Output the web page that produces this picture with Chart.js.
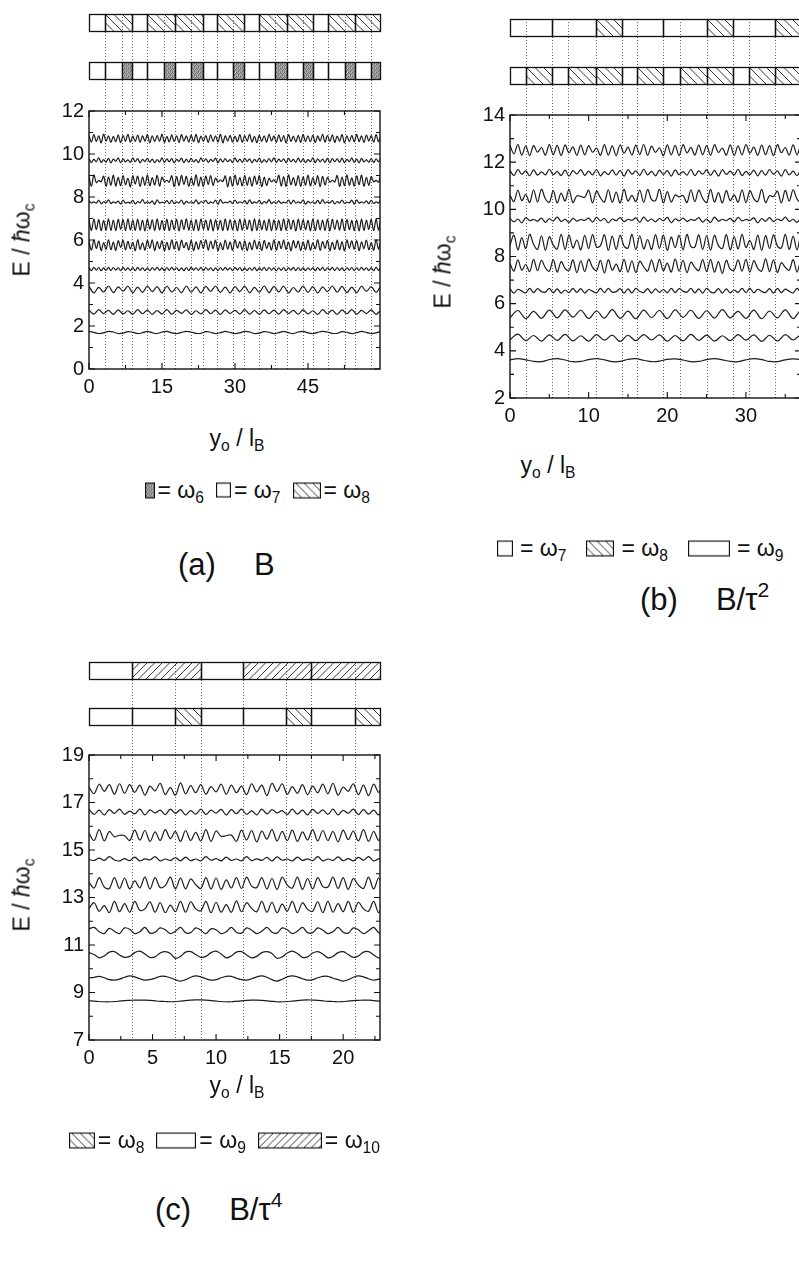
<!DOCTYPE html>
<html><head><meta charset="utf-8">
<script src="https://cdn.jsdelivr.net/npm/chart.js@4.4.1/dist/chart.umd.min.js"></script>
<style>
html,body{margin:0;padding:0;overflow:hidden;background:#fff}
body{width:799px;height:1262px;position:relative;font-family:"Liberation Sans",Arial,sans-serif;color:#111}
.cv{position:absolute}
.t{position:absolute;white-space:nowrap;font-size:23px;transform:translate(-50%,-50%)}
.yl{transform:translate(-50%,-50%) rotate(-90deg)}
sub{font-size:68%;vertical-align:-0.35em;line-height:0}
sup{font-size:68%;vertical-align:0.6em;line-height:0}
.lg{position:absolute;display:flex;align-items:center;white-space:nowrap;font-size:23px;transform:translateY(-50%)}
.lg canvas{display:block}
.lg span{margin:0 12px 0 3px}
.lg span:last-child{margin-right:0}
.lg.wide span{margin:0 20px 0 7px}
.cap{position:absolute;white-space:nowrap;font-size:31px;transform:translateY(-50%)}
.cap span+span{margin-left:38px}
</style></head><body>
<div class="cv" style="left:0;top:0;width:400px;height:410px"><canvas id="ca"></canvas></div>
<div class="cv" style="left:420px;top:0;width:400px;height:440px"><canvas id="cb"></canvas></div>
<div class="cv" style="left:0;top:640px;width:400px;height:440px"><canvas id="cc"></canvas></div>

<div class="t yl" style="left:22px;top:240px">E / <i>ħ</i>ω<sub>c</sub></div>
<div class="t" style="left:237px;top:438px">y<sub>o</sub> / l<sub>B</sub></div>
<div class="lg" style="right:429px;top:490px"><canvas class="sw" data-k="G" width="10" height="16"></canvas><span>= ω<sub>6</sub></span><canvas class="sw" data-k="W" width="15" height="15"></canvas><span>= ω<sub>7</sub></span><canvas class="sw" data-k="H8" width="28" height="16"></canvas><span>= ω<sub>8</sub></span></div>
<div class="cap" style="left:178px;top:565px"><span>(a)</span><span>B</span></div>

<div class="t yl" style="left:443px;top:272px">E / <i>ħ</i>ω<sub>c</sub></div>
<div class="t" style="left:548px;top:465px">y<sub>o</sub> / l<sub>B</sub></div>
<div class="lg wide" style="left:497px;top:548px"><canvas class="sw" data-k="W" width="16" height="16"></canvas><span>= ω<sub>7</sub></span><canvas class="sw" data-k="H8" width="28" height="16"></canvas><span>= ω<sub>8</sub></span><canvas class="sw" data-k="W" width="42" height="16"></canvas><span>= ω<sub>9</sub></span></div>
<div class="cap" style="left:640px;top:600px"><span>(b)</span><span>B/τ<sup>2</sup></span></div>

<div class="t yl" style="left:22px;top:895px">E / <i>ħ</i>ω<sub>c</sub></div>
<div class="t" style="left:237px;top:1085px">y<sub>o</sub> / l<sub>B</sub></div>
<div class="lg" style="right:419px;top:1140px"><canvas class="sw" data-k="H8" width="26" height="16"></canvas><span>= ω<sub>8</sub></span><canvas class="sw" data-k="W" width="40" height="16"></canvas><span>= ω<sub>9</sub></span><canvas class="sw" data-k="H10" width="64" height="16"></canvas><span>= ω<sub>10</sub></span></div>
<div class="cap" style="left:155px;top:1210px"><span>(c)</span><span>B/τ<sup>4</sup></span></div>

<script>
// ---------- sample positions (y_o / l_B) ----------
const XA1=[0,.5,1,1.5,2,2.5,3,3.5,4,4.5,
5,5.5,6,6.5,7,7.5,8,8.5,9,9.5,
10,10.5,11,11.5,12,12.5,13,13.5,14,14.5,
15,15.5,16,16.5,17,17.5,18,18.5,19,19.5,
20,20.5,21,21.5,22,22.5,23,23.5,24,24.5,
25,25.5,26,26.5,27,27.5,28,28.5,29,29.5,
30,30.5,31,31.5,32,32.5,33,33.5,34,34.5,
35,35.5,36,36.5,37,37.5,38,38.5,39,39.5,
40,40.5,41,41.5,42,42.5,43,43.5,44,44.5,
45,45.5,46,46.5,47,47.5,48,48.5,49,49.5,
50,50.5,51,51.5,52,52.5,53,53.5,54,54.5,
55,55.5,56,56.5,57,57.5,58,58.5,59,59.5,
60,60.5,61,61.5,62,62.5,63,63.5,64,64.5];
const XA2=[0,1,2,3,4,5,6,7,8,9,10,11,12,13,14,15,16,17,18,19,
20,21,22,23,24,25,26,27,28,29,30,31,32,33,34,35,36,37,38,39,
40,41,42,43,44,45,46,47,48,49,50,51,52,53,54,55,56,57,58,59,
60,61,62,63,64,65,66,67,68,69];
const XB1=[0,.5,1,1.5,2,2.5,3,3.5,4,4.5,
5,5.5,6,6.5,7,7.5,8,8.5,9,9.5,
10,10.5,11,11.5,12,12.5,13,13.5,14,14.5,
15,15.5,16,16.5,17,17.5,18,18.5,19,19.5,
20,20.5,21,21.5,22,22.5,23,23.5,24,24.5,
25,25.5,26,26.5,27,27.5,28,28.5,29,29.5,
30,30.5,31,31.5,32,32.5,33,33.5,34,34.5,
35,35.5,36,36.5,37,37.5,38,38.5,39,39.5];
const XB2=[0,1,2,3,4,5,6,7,8,9,10,11,12,13,14,15,16,17,18,19,
20,21,22,23,24,25,26,27,28,29,30,31,32,33,34,35,36,37,38,39];
const XC1=[0,.4,.8,1.2,1.6,2,2.4,2.8,3.2,3.6,
4,4.4,4.8,5.2,5.6,6,6.4,6.8,7.2,7.6,
8,8.4,8.8,9.2,9.6,10,10.4,10.8,11.2,11.6,
12,12.4,12.8,13.2,13.6,14,14.4,14.8,15.2,15.6,
16,16.4,16.8,17.2,17.6,18,18.4,18.8,19.2,19.6,
20,20.4,20.8,21.2,21.6,22,22.4,22.8,23.2,23.6];

// ---------- panel (a): B ----------
const A_BASE=[10.7,9.7,8.75,7.75,6.7,5.75,4.65,3.7,2.65,1.7];
// deviations from level, in 0.01 E/hw_c
const A1=[16,-14,20,-12,14,-18,22,-10,15,-16,
12,-13,19,-17,16,-11,21,-15,13,-12,
18,-16,14,-10,20,-18,15,-13,17,-11,
22,-16,12,-14,19,-12,15,-17,20,-10,
14,-15,18,-13,21,-17,13,-11,16,-16,
19,-12,15,-14,22,-18,14,-10,17,-15,
13,-13,20,-16,16,-11,21,-14,12,-17,
18,-12,15,-15,22,-10,14,-16,19,-13,
16,-18,20,-11,13,-14,17,-16,21,-12,
15,-13,18,-17,14,-10,22,-15,16,-12,
19,-16,13,-11,20,-18,15,-13,17,-14,
21,-12,14,-16,18,-10,16,-15,20,-13,
15,-17,19,-12,13,-14,22,-16,17,-11];
const A2=[8,-10,5,-6,12,-9,4,-8,10,-11,
6,-4,11,-10,7,-7,3,-9,12,-6,
9,-11,5,-5,10,-8,6,-10,4,-7,
12,-9,7,-6,9,-11,5,-4,11,-10,
6,-8,10,-7,4,-10,12,-6,8,-9,
5,-5,11,-11,7,-8,9,-6,4,-10,
12,-7,6,-9,10,-5,8,-11,5,-6,
11,-10,4,-8,9,-7,12,-9,6,-5,
8,-11,10,-6,5,-9,11,-8,7,-10,
4,-6,12,-10,8,-7,6,-9,10,-11,
9,-5,7,-8,11,-10,5,-6,12,-9,
6,-11,10,-7,4,-8,9,-10,8,-6,
11,-9,5,-7,10,-11,7,-5,9,-8];
const A3=[20,-25,28,-8,2,-4,22,-26,18,-20,
27,-24,16,-22,25,-18,12,-27,24,-15,
22,-26,18,-20,28,-23,15,-19,26,-24,
17,-4,3,-6,24,-27,20,-22,26,-16,
21,-25,14,-20,28,-24,18,-26,22,-17,
25,-21,13,-5,4,-3,23,-28,20,-24,
27,-19,15,-23,26,-20,18,-25,22,-16,
24,-27,17,-21,12,-4,5,-8,26,-24,
20,-26,28,-18,15,-22,25,-25,19,-20,
27,-23,14,-17,24,-27,21,-19,16,-6,
3,-5,25,-26,18,-22,28,-20,14,-24,
23,-18,27,-25,16,-21,20,-4,2,-6,
24,-27,19,-20,26,-23,15,-18,25,-22];
const A4=[8,-3,2,-4,10,-6,3,-2,12,-5,
2,-3,6,-8,11,-4,1,-3,9,-7,
4,-2,13,-5,3,-4,7,-9,12,-3,
1,-2,8,-6,10,-5,2,-3,11,-8,
5,-3,3,-4,12,-7,4,-2,9,-6,
2,-4,10,-9,13,-3,1,-2,6,-5,
11,-4,3,-3,8,-7,12,-5,2,-2,
9,-8,4,-3,13,-6,3,-4,7,-5,
1,-2,11,-7,10,-4,2,-3,12,-9,
5,-3,3,-5,9,-6,13,-4,2,-2,
8,-7,4,-3,11,-5,1,-2,10,-8,
12,-4,3,-3,7,-6,9,-5,2,-3,
13,-8,4,-2,8,-5,11,-6,3,-4];
const A5=[24,-26,27,-22,25,-27,21,-24,28,-25,
23,-27,26,-21,25,-26,28,-23,22,-25,
27,-24,22,-28,26,-20,24,-26,28,-23,
21,-25,27,-27,23,-22,26,-28,24,-21,
28,-24,22,-26,25,-27,27,-20,23,-25,
26,-28,24,-22,21,-26,28,-25,25,-23,
22,-27,27,-24,26,-21,23,-28,28,-26,
25,-22,21,-25,27,-27,24,-23,22,-26,
28,-25,26,-21,23,-28,27,-24,25,-22,
21,-26,28,-27,24,-23,22,-25,27,-28,
26,-21,23,-24,28,-26,25,-22,21,-27,
24,-28,27,-25,22,-21,26,-27,28,-24,
23,-22,25,-28,27,-26,21,-23,24,-25];
const A6=[18,-22,25,-14,20,-24,12,-18,26,-20,
15,-24,22,-10,24,-21,19,-16,14,-25,
26,-18,12,-22,23,-13,25,-24,17,-15,
21,-25,14,-20,26,-16,18,-23,24,-11,
13,-21,25,-24,16,-18,22,-14,26,-22,
19,-15,24,-25,12,-20,25,-17,15,-23,
26,-12,17,-22,21,-24,14,-19,25,-16,
18,-25,23,-14,13,-21,26,-22,19,-15,
24,-18,15,-25,22,-12,20,-24,16,-20,
25,-22,12,-16,26,-23,18,-14,23,-25,
14,-19,24,-21,17,-25,25,-13,21,-18,
22,-24,16,-15,25,-20,13,-23,26,-17,
19,-13,23,-24,15,-22,26,-18,20,-21];
const A7=[6,-7,8,-5,7,-8,5,-6,8,-7,
7,-5,6,-8,8,-6,5,-7,7,-8,
8,-6,5,-7,6,-8,7,-5,8,-6,
5,-8,7,-6,8,-5,6,-7,5,-8,
7,-7,8,-5,6,-6,8,-8,7,-5,
6,-8,5,-7,7,-6,8,-5,6,-7,
8,-5,7,-8,5,-7,6,-6,8,-8,
5,-6,8,-7,7,-5,5,-8,6,-6,
7,-8,6,-5,8,-7,7,-6,5,-8,
6,-5,5,-8,7,-6,8,-7,6,-5,
8,-7,7,-6,5,-8,6,-5,7,-7,
5,-6,8,-5,6,-7,7,-8,8,-6,
7,-8,5,-7,8,-5,6,-6,5,-7];
const A8=[14,-16,10,-12,16,-15,12,-8,15,-16,
11,-14,16,-10,13,-16,15,-12,9,-15,
16,-13,12,-16,14,-9,16,-14,11,-16,
13,-10,15,-16,10,-13,16,-15,14,-11,
15,-16,9,-12,16,-14,13,-16,12,-10,
16,-13,14,-15,11,-16,15,-9,13,-14,
12,-16,16,-11,14,-15,10,-13,16,-12];
const A9=[9,-10,11,-7,8,-11,10,-9,6,-10,
11,-8,9,-11,7,-9,11,-10,8,-6,
10,-11,6,-9,11,-8,9,-11,10,-7,
8,-9,11,-10,7,-11,10,-8,9,-10,
11,-7,8,-10,10,-9,6,-11,11,-8,
9,-11,10,-8,11,-10,8,-7,10,-11,
7,-9,11,-11,9,-8,10,-10,8,-9];
const A10=[5,0,-5,-2,5,2,-5,-3,4,1,
-5,-1,5,-1,-5,2,5,-2,-5,0,
5,2,-4,-4,4,1,-5,-1,5,0,
-5,-2,5,2,-5,-3,4,1,-5,-1,
5,-1,-5,2,5,-2,-5,0,5,2,
-4,-4,4,1,-5,-1,5,0,-5,-2,
5,2,-5,-3,4,1,-5,-1,5,0];
const A_CURVES=[A1,A2,A3,A4,A5,A6,A7,A8,A9,A10];
const A_XS=[XA1,XA1,XA1,XA1,XA1,XA1,XA1,XA2,XA2,XA2];
const A_TOP_EDGES=[0,3.3,8.9,12.0,17.6,23.4,26.3,31.9,35.0,40.6,46.0,49.1,54.7,59.8];
const A_TOP_KIND=['W','H8','W','H8','H8','W','H8','W','H8','H8','W','H8','H8'];
const A_BOT_EDGES=[0,3.3,6.8,8.9,12.0,15.5,17.6,20.9,23.4,26.3,29.6,31.9,35.0,38.3,40.6,43.9,46.0,49.1,52.6,54.7,58.0,59.8];
const A_BOT_KIND=['W','W','G','W','W','G','W','G','W','W','G','W','W','G','W','G','W','W','G','W','G'];
const A_XTICKS=[0,15,30,45];

// ---------- panel (b): B/tau^2 ----------
const B_BASE=[12.5,11.55,10.55,9.55,8.6,7.6,6.55,5.55,4.55,3.6];
const B1=[22,-15,24,-20,18,-22,20,-8,12,-20,
24,-18,21,-22,23,-10,15,-21,22,-19,
20,-8,10,-21,24,-20,19,-22,23,-12,
14,-20,22,-18,25,-21,18,-9,11,-22,
23,-19,21,-22,24,-11,13,-20,22,-18,
20,-21,24,-9,10,-20,23,-22,19,-19,
25,-12,14,-21,22,-18,20,-22,24,-10,
12,-20,23,-19,21,-21,24,-11,15,-20];
const B2=[10,-12,14,-6,8,-13,12,-10,4,-9,
15,-8,6,-12,11,-14,9,-5,13,-11,
7,-9,14,-13,5,-8,12,-10,10,-14,
13,-6,8,-11,15,-9,6,-13,11,-7,
9,-14,12,-8,5,-10,14,-12,8,-6,
12,-11,10,-14,13,-7,7,-9,15,-12,
6,-8,11,-13,9,-10,14,-6,8,-14,
13,-9,7,-12,12,-11,10,-8,14,-13];
const B3=[5,-22,26,-18,8,-26,28,-24,30,-10,
-25,24,-28,14,-20,30,-26,2,0,-4,
26,-28,22,-6,-24,28,-25,18,-28,30,
-20,4,-22,27,-26,29,-14,-18,30,-28,
20,-24,6,-2,4,-26,28,-22,26,-8,
-26,30,-24,16,-28,25,-18,6,-25,28,
-27,24,-10,-22,30,-26,3,-1,22,-28,
26,-20,28,-12,-24,27,-28,20,-22,29];
const B4=[6,-8,4,-12,10,-3,2,-5,8,-10,
5,-4,12,-6,3,-11,7,-5,2,-2,
8,-9,11,-4,6,-12,4,-3,10,-7,
3,-2,9,-10,12,-5,4,-8,6,-3,
11,-12,5,-4,8,-6,2,-2,10,-9,
4,-11,12,-5,3,-3,7,-8,11,-4,
2,-2,9,-12,6,-5,10,-7,4,-3,
12,-6,3,-10,8,-4,2,-3,11,-9];
const B5=[-10,30,-32,20,-26,34,-8,-30,28,-33,
24,-12,-28,34,-30,32,-24,10,-32,30,
-26,33,-20,-14,32,-34,26,-30,30,-16,
-24,34,-31,28,-28,12,-30,33,-26,31,
-34,22,-22,30,-32,34,-18,-20,32,-30,
28,-33,30,-14,-26,33,-32,24,-28,34,
-22,8,-30,31,-34,29,-26,32,-16,-24,
34,-30,26,-32,30,-12,-28,33,-31,27];
const B6=[10,-22,26,-18,6,-24,28,-20,24,-8,
-22,27,-26,18,-10,-20,26,-28,22,-24,
28,-6,-20,24,-30,26,-18,8,-24,28,
-26,22,-28,20,-4,-22,26,-25,28,-20,
12,-26,30,-22,24,-28,16,-6,-20,27,
-24,28,-26,18,-32,24,-14,-18,26,-22,
28,-26,22,-10,-22,30,-24,26,-28,14,
-6,-18,27,-26,24,-30,22,-12,-20,28];
const B7=[8,-10,6,-2,-9,10,-8,9,-4,-6,
10,-9,8,-10,3,-8,10,-7,9,-10,
5,-2,-9,10,-8,10,-6,-4,9,-10,
8,-9,10,-3,-8,9,-10,8,-7,5,
-9,10,-8,9,-2,-6,10,-9,8,-10,
10,-5,-8,9,-10,8,-9,3,-7,10,
-8,10,-9,6,-3,-8,9,-10,10,-8,
7,-2,-9,10,-8,9,-10,6,-4,-8];
const B8=[-14,16,-18,12,-17,18,-15,19,-12,17,
-18,14,-16,20,-17,13,-19,18,-14,16,
-18,19,-13,17,-18,15,-16,20,-15,12,
-17,18,-19,14,-15,19,-18,16,-13,18];
const B9=[-8,16,-12,10,-14,13,-11,15,-13,9,
-14,14,-10,12,-15,11,-12,14,-9,13,
-14,10,-13,15,-11,12,-14,9,-12,14,
-10,13,-15,11,-13,14,-9,12,-14,10];
const B10=[2,7,2,-5,-6,3,7,1,-6,-5,
3,7,2,-6,-5,4,7,0,-6,-4,
4,6,1,-6,-5,3,7,2,-5,-6,
2,7,3,-5,-6,2,6,3,-5,-6];
const B_CURVES=[B1,B2,B3,B4,B5,B6,B7,B8,B9,B10];
const B_XS=[XB1,XB1,XB1,XB1,XB1,XB1,XB1,XB2,XB2,XB2];
const B_TOP_EDGES=[0,5.4,10.9,14.3,19.5,25.0,28.4,33.7,37];
const B_TOP_KIND=['W','W','H8','W','W','H8','W','H8'];
const B_BOT_EDGES=[0,2.0,5.4,7.4,10.9,14.3,16.2,19.5,21.6,25.0,28.4,30.4,33.7,37];
const B_BOT_KIND=['W','H8','W','H8','H8','W','H8','W','H8','H8','W','H8','H8'];
const B_XTICKS=[0,10,20,30];

// ---------- panel (c): B/tau^4 ----------
const C_BASE=[17.55,16.6,15.6,14.6,13.6,12.6,11.6,10.6,9.6,8.65];
const C1=[10,-18,22,-8,20,-20,24,-16,20,-12,
18,-24,14,-6,26,-22,8,-24,28,-18,
16,-14,20,-20,12,-10,22,-20,18,-14,
14,-22,24,-10,18,-26,26,-8,24,-20,
12,-16,20,-22,14,-14,22,-18,26,-24,
10,-8,24,-22,18,-26,22,-12,20,-18];
const C2=[12,-10,8,-12,10,-6,12,-10,4,-8,
12,-12,9,-4,8,-11,12,-6,10,-12,
6,-9,12,-11,8,-5,11,-12,10,-7,
12,-10,5,-12,12,-8,10,-4,6,-11,
12,-9,8,-12,11,-6,9,-10,12,-12,
7,-5,12,-11,10,-9,8,-12,11,-6];
const C3=[10,-20,26,-22,18,-4,2,0,-20,24,
-18,22,-24,16,-20,26,-12,18,-24,22,
-20,14,-22,26,-24,20,-2,0,3,-24,
24,-18,22,-26,20,-14,26,-22,18,-20,
24,-24,16,-18,26,-22,22,-20,18,-26,
24,-16,20,-22,26,-24,18,-20,22,-10];
const C4=[0,-4,6,-4,12,-2,-6,4,-5,10,
-6,3,-2,12,-6,2,-4,8,-6,10,
-5,2,-6,12,-3,4,-6,10,-4,2,
-6,12,-5,3,-4,9,-6,11,-3,2,
-6,10,-4,3,-5,12,-6,2,-4,11,
-5,4,-6,9,-3,12,-6,3,-5,8];
const C5=[4,-20,24,-16,-22,24,-22,22,-24,10,
-20,26,-24,24,-18,-10,26,-24,22,-24,
18,-6,-22,24,-24,22,-26,14,-20,24,
-22,26,-12,-18,24,-24,20,-26,26,-8,
-20,26,-26,20,-24,24,-14,-16,26,-22,
24,-26,20,-8,-22,26,-24,22,-26,14];
const C6=[-6,18,-18,6,-24,24,-20,14,-22,24,
-14,-8,22,-22,18,-24,8,-20,24,-22,
22,-8,-16,24,-24,20,-22,10,-22,26,
-20,18,-6,-20,24,-22,20,-24,12,-18,
24,-24,18,-10,-18,22,-24,24,-22,14,
-20,24,-22,20,-8,-18,24,-24,22,-20];
const C7=[8,14,-4,-12,10,-2,-12,12,6,-12,
-4,14,-10,-6,12,4,-12,-2,14,-8,
-8,12,2,-12,8,4,-12,-4,14,-6,
-10,12,2,-12,-2,14,-6,-10,12,4,
-12,-2,14,-8,-8,12,2,-12,-4,14,
-6,-10,12,4,-12,0,14,-8,-8,12];
const C8=[8,0,-14,-6,10,12,-2,-12,-8,8,
14,2,-12,-10,6,12,4,-16,-8,10,
12,0,-12,-8,8,14,2,-14,-6,10,
12,-2,-14,-8,8,12,4,-16,-10,6,
14,4,-12,-10,6,12,2,-14,-8,8,
12,0,-12,-6,10,12,-2,-14,-8,8];
const C9=[2,4,8,2,-6,-8,-4,4,10,6,
-2,-8,-6,0,8,8,2,-6,-12,-6,
4,10,6,-2,-8,-6,2,8,8,0,
-6,-8,-2,6,10,4,-6,-12,-4,6,
10,6,-2,-8,-6,2,8,8,0,-6,
-12,-6,4,10,6,-2,-8,-4,4,8];
const C10=[0,-1,-3,-4,-4,-3,-1,1,2,3,
3,3,2,0,-2,-3,-4,-3,-1,1,
3,4,4,3,1,-1,-3,-4,-4,-2,
0,2,3,3,2,0,-2,-4,-4,-3,
-1,1,3,4,3,2,0,-2,-3,-4,
-3,-1,1,2,3,3,1,-1,-3,-4];
const C_CURVES=[C1,C2,C3,C4,C5,C6,C7,C8,C9,C10];
const C_XS=[XC1,XC1,XC1,XC1,XC1,XC1,XC1,XC1,XC1,XC1];
const C_TOP_EDGES=[0,3.4,8.85,12.1,17.5,22.9];
const C_TOP_KIND=['W','H10','W','H10','H10'];
const C_BOT_EDGES=[0,3.4,6.8,8.85,12.1,15.5,17.5,20.9,22.9];
const C_BOT_KIND=['W','W','H8','W','W','H8','W','H8'];
const C_XTICKS=[0,5,10,15,20];

// ---------- drawing helpers ----------
function getGray(ctx){
  const c=document.createElement('canvas');c.width=4;c.height=4;
  const g=c.getContext('2d');
  const cols=['#6e6e6e','#a8a8a8','#8a8a8a','#bcbcbc','#9a9a9a','#707070','#b0b0b0','#808080',
              '#a0a0a0','#c0c0c0','#787878','#949494','#888888','#a4a4a4','#6a6a6a','#b4b4b4'];
  for(let i=0;i<16;i++){g.fillStyle=cols[i];g.fillRect(i%4,Math.floor(i/4),1,1);}
  return ctx.createPattern(c,'repeat');
}
function drawTile(ctx,x,y,w,h,kind){
  ctx.save();
  if(kind==='G'){ctx.fillStyle=getGray(ctx);ctx.fillRect(x,y,w,h);}
  if(kind==='H8'||kind==='H10'){
    ctx.beginPath();ctx.rect(x,y,w,h);ctx.clip();
    ctx.lineWidth=0.9;ctx.strokeStyle='#222';ctx.beginPath();
    const s=kind==='H8'?8.5:7.5;
    for(let a=x-h;a<x+w+h;a+=s){
      if(kind==='H8'){ctx.moveTo(a,y);ctx.lineTo(a+h,y+h);}
      else{ctx.moveTo(a,y+h);ctx.lineTo(a+h,y);}
    }
    ctx.stroke();
  }
  ctx.restore();
  ctx.save();ctx.lineWidth=1.3;ctx.strokeStyle='#111';ctx.strokeRect(x,y,w,h);ctx.restore();
}
const STRIP_H=17;
const stripPlugin={
  id:'strips',
  beforeDatasetsDraw(chart,args,opts){
    const {ctx,chartArea:ca}=chart, x=chart.scales.x;
    ctx.save();ctx.strokeStyle='#555';ctx.lineWidth=0.9;ctx.setLineDash([1,2]);
    opts.dots.forEach(v=>{const px=Math.round(x.getPixelForValue(v))+0.5;
      ctx.beginPath();ctx.moveTo(px,ca.top-opts.off[0]);ctx.lineTo(px,ca.bottom);ctx.stroke();});
    ctx.restore();
  },
  afterDraw(chart,args,opts){
    const {ctx,chartArea:ca}=chart, x=chart.scales.x, y=chart.scales.y;
    opts.rows.forEach((row,r)=>{
      const top=Math.round(ca.top-opts.off[r])+0.5;
      for(let i=0;i<row.kinds.length;i++){
        const x1=Math.round(x.getPixelForValue(row.edges[i]))+0.5, x2=Math.round(x.getPixelForValue(row.edges[i+1]))+0.5;
        drawTile(ctx,x1,top,x2-x1,STRIP_H,row.kinds[i]);
      }
    });
    ctx.save();ctx.strokeStyle='#111';ctx.lineWidth=1.4;
    ctx.strokeRect(ca.left,ca.top,ca.right-ca.left,ca.bottom-ca.top);
    ctx.lineWidth=1.1;ctx.beginPath();
    x.ticks.forEach(t=>{const px=x.getPixelForValue(t.value);const L=t.label!==''?6:4;
      ctx.moveTo(px,ca.bottom);ctx.lineTo(px,ca.bottom-L);ctx.moveTo(px,ca.top);ctx.lineTo(px,ca.top+L);});
    y.ticks.forEach(t=>{const py=y.getPixelForValue(t.value);const L=t.label!==''?6:4;
      ctx.moveTo(ca.left,py);ctx.lineTo(ca.left+L,py);ctx.moveTo(ca.right,py);ctx.lineTo(ca.right-L,py);});
    ctx.stroke();ctx.restore();
  }
};

function makeChart(id,p){
  const datasets=p.curves.map((ys,i)=>({
    data:ys.map((v,j)=>({x:p.xs[i][j],y:p.base[i]+v/100})).filter(q=>q.x!==undefined),
    borderColor:'#1c1c1c',borderWidth:1.2,pointRadius:0,tension:0.35,fill:false
  }));
  const near=(v,list)=>list.some(u=>Math.abs(u-v)<1e-6);
  return new Chart(document.getElementById(id),{
    type:'line',
    data:{datasets},
    options:{
      responsive:true,maintainAspectRatio:false,animation:false,devicePixelRatio:1,
      layout:{padding:{left:0,right:p.padR,top:p.padT,bottom:0}},
      plugins:{legend:{display:false},tooltip:{enabled:false},
        strips:{rows:[{edges:p.topE,kinds:p.topK},{edges:p.botE,kinds:p.botK}],dots:p.botE.slice(1,-1),off:p.off}},
      scales:{
        x:{type:'linear',min:0,max:p.xmax,grid:{display:false,drawTicks:false},border:{display:false},
          ticks:{stepSize:p.xstep,autoSkip:false,includeBounds:false,maxRotation:0,padding:6,color:'#111',
            font:{family:'Liberation Sans',size:20},callback:v=>near(v,p.xlab)?String(v):''},
          afterFit:s=>{s.height=p.xh;}},
        y:{min:p.ymin,max:p.ymax,grid:{display:false,drawTicks:false},border:{display:false},
          ticks:{stepSize:1,autoSkip:false,padding:5,color:'#111',
            font:{family:'Liberation Sans',size:20},callback:v=>near(v,p.ylab)?String(v):''},
          afterFit:s=>{s.width=p.yw;}}
      }
    },
    plugins:[stripPlugin]
  });
}

makeChart('ca',{curves:A_CURVES,xs:A_XS,base:A_BASE,topE:A_TOP_EDGES,topK:A_TOP_KIND,botE:A_BOT_EDGES,botK:A_BOT_KIND,
  xmax:59.8,xstep:7.5,xlab:A_XTICKS,ymin:0,ymax:12,ylab:[0,2,4,6,8,10,12],padR:20,padT:111,xh:41,yw:89,off:[97,49]});
makeChart('cb',{curves:B_CURVES,xs:B_XS,base:B_BASE,topE:B_TOP_EDGES,topK:B_TOP_KIND,botE:B_BOT_EDGES,botK:B_BOT_KIND,
  xmax:37,xstep:5,xlab:B_XTICKS,ymin:2,ymax:14,ylab:[2,4,6,8,10,12,14],padR:19,padT:115,xh:42,yw:90,off:[96,48]});
makeChart('cc',{curves:C_CURVES,xs:C_XS,base:C_BASE,topE:C_TOP_EDGES,topK:C_TOP_KIND,botE:C_BOT_EDGES,botK:C_BOT_KIND,
  xmax:22.9,xstep:2.5,xlab:C_XTICKS,ymin:7,ymax:19,ylab:[7,9,11,13,15,17,19],padR:20,padT:115,xh:40,yw:89,off:[93,47]});

document.querySelectorAll('canvas.sw').forEach(c=>{
  const g=c.getContext('2d');drawTile(g,0.5,0.5,c.width-1,c.height-1,c.dataset.k);
});
</script>
</body></html>
